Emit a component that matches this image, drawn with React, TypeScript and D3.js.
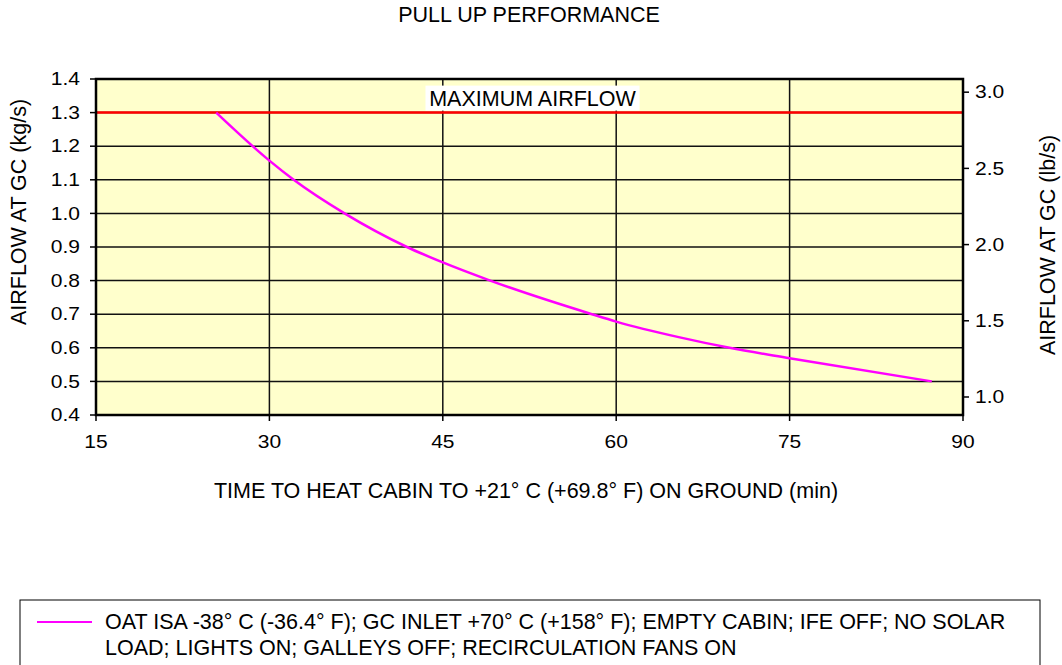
import React from "react";
import * as d3 from "d3";

// time to heat cabin (min) vs airflow at GC (kg/s)
const timeMin = [25.4, 30, 32.1, 36.5, 41.9, 45, 49.1, 57.9, 60, 65.5, 69.8, 75, 87.3];
const airflowKg = [1.3, 1.157, 1.1, 1.0, 0.9, 0.854, 0.8, 0.7, 0.678, 0.631, 0.6, 0.569, 0.5];

const xTicks = [15, 30, 45, 60, 75, 90];
const yTicks = [0.4, 0.5, 0.6, 0.7, 0.8, 0.9, 1.0, 1.1, 1.2, 1.3, 1.4];
const y2Ticks = [1.0, 1.5, 2.0, 2.5, 3.0];
const maxAirflow = 1.3;
const KG_TO_LB = 2.20462;

const title = "PULL UP PERFORMANCE";
const xTitle = "TIME TO HEAT CABIN TO +21° C (+69.8° F) ON GROUND (min)";
const yTitle = "AIRFLOW AT GC (kg/s)";
const y2Title = "AIRFLOW AT GC (lb/s)";
const maxLabel = "MAXIMUM AIRFLOW";
const legendLines = [
  "OAT ISA -38° C (-36.4° F); GC INLET +70° C (+158° F); EMPTY CABIN; IFE OFF; NO SOLAR",
  "LOAD; LIGHTS ON; GALLEYS OFF; RECIRCULATION FANS ON",
];

const W = 1062;
const H = 665;
const margin = { left: 96, right: 99, top: 79, bottom: 250 };
const font = "'Liberation Sans', Arial, sans-serif";
const tickFs = 17.5;
const tickStretch = 1.2;
const labelFs = 21.5;

const App = () => {
  const innerW = W - margin.left - margin.right;
  const innerH = H - margin.top - margin.bottom;

  const x = d3.scaleLinear().domain([15, 90]).range([0, innerW]);
  const y = d3.scaleLinear().domain([0.4, 1.4]).range([innerH, 0]);
  const y2 = d3
    .scaleLinear()
    .domain([0.4 * KG_TO_LB, 1.4 * KG_TO_LB])
    .range([innerH, 0]);

  const pts = timeMin.map((t, i) => [t, airflowKg[i]] as [number, number]);
  const line = d3
    .line<[number, number]>()
    .x((d) => x(d[0]))
    .y((d) => y(d[1]))
    .curve(d3.curveMonotoneX);

  const labelX = x(52.5) + 3;

  return (
    <svg width={W} height={H} style={{ display: "block", position: "absolute", left: 0, top: 0 }} fontFamily={font}>
      <rect width={W} height={H} fill="#fff" />
      <text x={529} y={22} textAnchor="middle" fontSize={labelFs} fill="#000">
        {title}
      </text>

      <g transform={`translate(${margin.left},${margin.top})`}>
        <rect width={innerW} height={innerH} fill="#FFFFCC" />
        {/* grid */}
        {yTicks.slice(1, -1).map((t) => (
          <line key={"gy" + t} x1={0} x2={innerW} y1={y(t)} y2={y(t)} stroke="#111" strokeWidth={1.5} />
        ))}
        {xTicks.slice(1, -1).map((t) => (
          <line key={"gx" + t} x1={x(t)} x2={x(t)} y1={0} y2={innerH} stroke="#111" strokeWidth={1.5} />
        ))}

        <line x1={0} x2={innerW} y1={y(maxAirflow)} y2={y(maxAirflow)} stroke="#FF0000" strokeWidth={2.5} />
        <rect x={labelX - 107} y={y(maxAirflow) - 27} width={214} height={25} fill="#fff" />
        <text x={labelX} y={y(maxAirflow) - 7} textAnchor="middle" fontSize={labelFs} fill="#000">
          {maxLabel}
        </text>

        <path d={line(pts) ?? ""} fill="none" stroke="#FF00FF" strokeWidth={2.5} />

        <rect width={innerW} height={innerH} fill="none" stroke="#000" strokeWidth={2.5} />

        {/* left axis */}
        {yTicks.map((t) => (
          <g key={"y" + t} transform={`translate(0,${y(t)})`}>
            <line x1={-6} x2={0} stroke="#000" strokeWidth={1.5} />
            <text transform={`translate(-16,0) scale(${tickStretch},1)`} dy="0.35em" textAnchor="end" fontSize={tickFs}>
              {t.toFixed(1)}
            </text>
          </g>
        ))}
        {/* right axis */}
        {y2Ticks.map((t) => (
          <g key={"y2" + t} transform={`translate(${innerW},${y2(t)})`}>
            <line x1={0} x2={6} stroke="#000" strokeWidth={1.5} />
            <text transform={`translate(12,0) scale(${tickStretch},1)`} dy="0.35em" textAnchor="start" fontSize={tickFs}>
              {t.toFixed(1)}
            </text>
          </g>
        ))}
        {/* bottom axis */}
        {xTicks.map((t) => (
          <g key={"x" + t} transform={`translate(${x(t)},${innerH})`}>
            <line y1={0} y2={6} stroke="#000" strokeWidth={1.5} />
            <text transform={`translate(0,33) scale(${tickStretch},1)`} textAnchor="middle" fontSize={tickFs}>
              {t}
            </text>
          </g>
        ))}
      </g>

      <text x={526} y={498} textAnchor="middle" fontSize={labelFs}>
        {xTitle}
      </text>
      <text transform={`translate(26,212) rotate(-90)`} textAnchor="middle" fontSize={labelFs}>
        {yTitle}
      </text>
      <text transform={`translate(1055,245) rotate(-90)`} textAnchor="middle" fontSize={labelFs}>
        {y2Title}
      </text>

      {/* legend */}
      <rect x={20} y={600} width={1020} height={80} fill="#fff" stroke="#000" strokeWidth={1} />
      <line x1={37} x2={92} y1={622} y2={622} stroke="#FF00FF" strokeWidth={2} />
      {legendLines.map((l, i) => (
        <text key={i} x={105} y={629 + i * 26} fontSize={labelFs}>
          {l}
        </text>
      ))}
    </svg>
  );
};

export default App;
